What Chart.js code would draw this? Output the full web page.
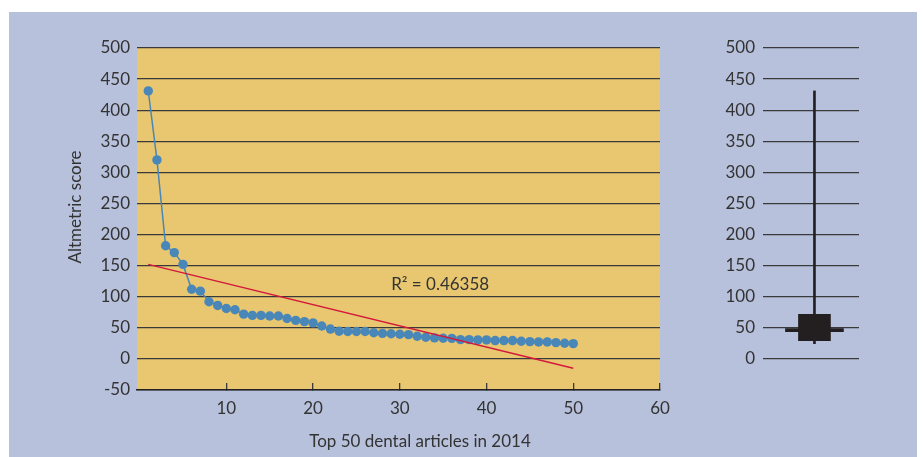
<!DOCTYPE html>
<html>
<head>
<meta charset="utf-8">
<script src="https://cdn.jsdelivr.net/npm/chart.js@4.4.1/dist/chart.umd.min.js"></script>
<style>
  body { margin: 0; background: #fff; }
  #panel { position: absolute; left: 9px; top: 12px; width: 908px; height: 445px; background: #b8c1dc; }
  #scoreChart { position: absolute; left: 0; top: 0; }
  #boxChart { position: absolute; left: 700px; top: 0; }
</style>
</head>
<body>
<div id="panel"></div>
<canvas id="scoreChart" width="700" height="457"></canvas>
<canvas id="boxChart" width="223" height="457"></canvas>
<script>
// altmetric scores of the top 50 dental articles, ranked
const scores = [431, 320, 182, 171, 152, 112, 109, 92, 86, 81,
  79, 72, 70, 70, 69, 69, 65, 62, 60, 58,
  53, 48, 44.5, 44, 44, 44, 42, 41, 40.5, 39.6,
  39, 36.4, 34.8, 33.8, 33.2, 33, 31, 31, 30.5, 30.5,
  29.5, 29.5, 29.5, 28.4, 27.8, 27.3, 27.3, 26.2, 25.2, 24.6];

// linear trend line end points
const trendX = [1, 50];
const trendY = [152, -15];
const rSquared = "0.46358";

const xTicks = [10, 20, 30, 40, 50, 60];
// min, q1, median, q3, max
const boxStats = [24.6, 29.3, 46.5, 72, 431];

const textColor = "#333333";
const gridColor = "#3a3a3a";
const font = { family: "Lato", size: 17 };

const plotBg = {
  id: "plotBg",
  beforeDraw(chart) {
    const a = chart.chartArea;
    chart.ctx.save();
    chart.ctx.fillStyle = "#e8c770";
    chart.ctx.fillRect(a.left, a.top, a.right - a.left, a.bottom - a.top);
    chart.ctx.restore();
  },
};

const labels = {
  id: "labels",
  afterDraw(chart) {
    const ctx = chart.ctx;
    const x = chart.scales.x;
    const y = chart.scales.y;
    ctx.save();
    ctx.fillStyle = textColor;
    ctx.font = "17px Lato";
    ctx.textBaseline = "middle";
    ctx.textAlign = "left";
    ctx.fillText("R² = " + rSquared, x.getPixelForValue(29), y.getPixelForValue(120));
    ctx.textAlign = "center";
    ctx.fillText("Top 50 dental articles in 2014", 420, 442);
    ctx.translate(76, 207);
    ctx.rotate(-Math.PI / 2);
    ctx.fillText("Altmetric score", 0, 0);
    ctx.restore();
  },
};

new Chart(document.getElementById("scoreChart"), {
  type: "line",
  data: {
    datasets: [
      {
        data: trendX.map((v, i) => ({ x: v, y: trendY[i] })),
        borderColor: "#d4183c",
        borderWidth: 1.5,
        pointRadius: 0,
      },
      {
        data: scores.map((v, i) => ({ x: i + 1, y: v })),
        borderColor: "#4a87b9",
        borderWidth: 1.5,
        pointRadius: 4.7,
        pointBackgroundColor: "#4a87b9",
        pointBorderWidth: 0,
      },
    ],
  },
  options: {
    responsive: false,
    animation: false,
    layout: { padding: { left: 0, top: 48, right: 40, bottom: 0 } },
    plugins: { legend: { display: false }, tooltip: { enabled: false } },
    scales: {
      x: {
        type: "linear",
        min: -0.3,
        max: 60,
        afterBuildTicks: (s) => {
          s.ticks = xTicks.map((v) => ({ value: v }));
        },
        afterFit: (s) => {
          s.height = 67;
        },
        grid: { drawOnChartArea: false, drawTicks: true, tickLength: -7, color: gridColor, lineWidth: 1.3 },
        border: { display: true, color: "#222", width: 1.5 },
        ticks: { padding: 15, font: font, color: textColor, maxRotation: 0 },
      },
      y: {
        min: -50,
        max: 500,
        afterFit: (s) => {
          s.width = 137;
        },
        grid: { drawTicks: false, color: gridColor, lineWidth: 1.3 },
        border: { display: false },
        ticks: { stepSize: 50, padding: 7, font: font, color: textColor },
      },
    },
  },
  plugins: [plotBg, labels],
});

// box plot made of floating bars
const boxX = 5.54;
const medianHalf = 2.4;
const boxColor = "#231f20";

new Chart(document.getElementById("boxChart"), {
  type: "bar",
  data: {
    datasets: [
      {
        data: [{ x: boxX, y: [boxStats[2] - medianHalf, boxStats[2] + medianHalf] }],
        backgroundColor: boxColor,
        barThickness: 58,
        grouped: false,
      },
      {
        data: [{ x: boxX, y: [boxStats[1], boxStats[3]] }],
        backgroundColor: boxColor,
        barThickness: 32,
        grouped: false,
      },
      {
        data: [{ x: boxX, y: [boxStats[0], boxStats[4]] }],
        backgroundColor: boxColor,
        barThickness: 2,
        grouped: false,
      },
    ],
  },
  options: {
    responsive: false,
    animation: false,
    layout: { padding: { left: 0, top: 48, right: 64, bottom: 98 } },
    plugins: { legend: { display: false }, tooltip: { enabled: false } },
    scales: {
      x: { type: "linear", display: false, min: 0, max: 10 },
      y: {
        min: 0,
        max: 500,
        afterFit: (s) => {
          s.width = 63;
        },
        grid: { drawTicks: false, color: gridColor, lineWidth: 1.3 },
        border: { display: false },
        ticks: { stepSize: 50, padding: 8, font: font, color: textColor },
      },
    },
  },
});
</script>
</body>
</html>
